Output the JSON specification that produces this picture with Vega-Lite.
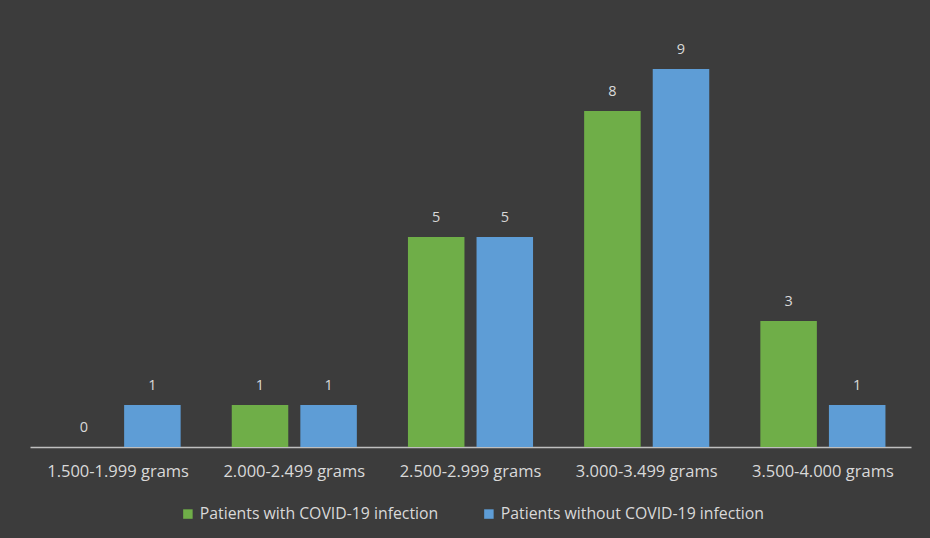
{
  "$schema": "https://vega.github.io/schema/vega-lite/v6.json",
  "width": 881,
  "height": 420,
  "autosize": {"type": "none"},
  "padding": {"left": 30, "top": 27, "right": 19, "bottom": 91},
  "background": "#3c3c3c",
  "config": {
    "view": {"stroke": null},
    "font": "Open Sans",
    "axis": {"labelColor": "#d9d9d9", "labelFont": "Open Sans", "labelFontSize": 16.5},
    "legend": {"labelColor": "#d9d9d9", "labelFont": "Open Sans", "labelFontSize": 15.8}
  },
  "data": {
    "values": [
      {"range": "1.500-1.999 grams", "group": "Patients with COVID-19 infection", "count": 0},
      {"range": "1.500-1.999 grams", "group": "Patients without COVID-19 infection", "count": 1},
      {"range": "2.000-2.499 grams", "group": "Patients with COVID-19 infection", "count": 1},
      {"range": "2.000-2.499 grams", "group": "Patients without COVID-19 infection", "count": 1},
      {"range": "2.500-2.999 grams", "group": "Patients with COVID-19 infection", "count": 5},
      {"range": "2.500-2.999 grams", "group": "Patients without COVID-19 infection", "count": 5},
      {"range": "3.000-3.499 grams", "group": "Patients with COVID-19 infection", "count": 8},
      {"range": "3.000-3.499 grams", "group": "Patients without COVID-19 infection", "count": 9},
      {"range": "3.500-4.000 grams", "group": "Patients with COVID-19 infection", "count": 3},
      {"range": "3.500-4.000 grams", "group": "Patients without COVID-19 infection", "count": 1}
    ]
  },
  "encoding": {
    "x": {
      "field": "range", "type": "nominal", "sort": null,
      "scale": {"paddingInner": 0.29, "paddingOuter": 0.145},
      "axis": {"title": null, "labelAngle": 0, "ticks": false, "domainColor": "#bfbfbf", "domainWidth": 1.5, "labelPadding": 16}
    },
    "xOffset": {"field": "group", "type": "nominal", "scale": {"paddingInner": 0.176}},
    "y": {
      "field": "count", "type": "quantitative",
      "scale": {"domain": [0, 10], "nice": false},
      "axis": null
    }
  },
  "layer": [
    {
      "mark": {"type": "bar"},
      "encoding": {
        "color": {
          "field": "group", "type": "nominal",
          "scale": {"range": ["#6fae48", "#5e9dd6"]},
          "legend": {"title": null, "orient": "none", "legendX": 150, "legendY": 479, "direction": "horizontal", "symbolType": "square", "symbolSize": 90, "symbolStrokeWidth": 0, "symbolOpacity": 1, "columnPadding": 42, "labelOffset": 4, "labelLimit": 0}
        }
      }
    },
    {
      "mark": {"type": "text", "baseline": "bottom", "dy": -12, "color": "#d9d9d9", "fontSize": 14.5},
      "encoding": {"text": {"field": "count", "type": "quantitative"}}
    }
  ]
}
